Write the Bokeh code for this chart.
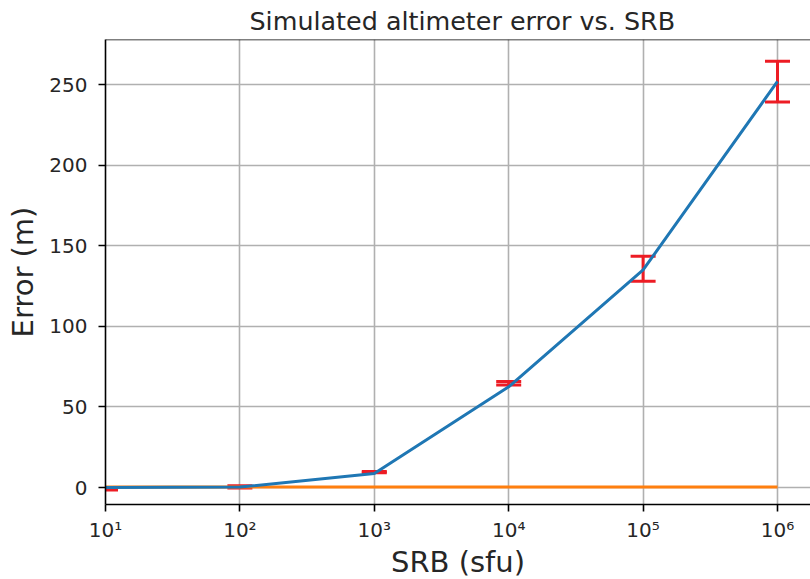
from bokeh.plotting import figure
from bokeh.models import Range1d, FixedTicker, ColumnDataSource, Span
from bokeh.embed import file_html
from bokeh.resources import INLINE

# ---- data ----
srb = [1e1, 1e2, 1e3, 1e4, 1e5, 1e6]
mean_error = [0.0, 0.3, 8.8, 62.5, 135.0, 252.0]
err_low = [-1.5, -0.3, 9.2, 63.6, 128.0, 239.3]
err_high = [-0.8, 1.2, 10.0, 65.8, 143.5, 264.5]
baseline = [0.3, 0.3, 0.3, 0.3, 0.3, 0.3]

x_ticks = [1e1, 1e2, 1e3, 1e4, 1e5, 1e6]
x_tick_labels = ["10¹", "10²", "10³", "10⁴", "10⁵", "10⁶"]
y_ticks = [0, 50, 100, 150, 200, 250]

FONT = "DejaVu Sans"
TXT = "#262626"
Y_MIN, Y_MAX = -10.5, 278

src = ColumnDataSource(dict(x=srb, m=mean_error, lo=err_low, hi=err_high, b=baseline))

p = figure(frame_width=705, frame_height=465, x_axis_type="log",
           x_range=Range1d(10, 10 ** 6.2455), y_range=Range1d(Y_MIN, Y_MAX),
           output_backend="svg", toolbar_location=None,
           title="Simulated altimeter error vs. SRB",
           min_border_left=105, min_border_right=0, min_border_top=37, min_border_bottom=70)

p.title.text_font = FONT
p.title.text_font_size = "25.4px"
p.title.text_font_style = "normal"
p.title.text_color = TXT
p.title.align = "left"
p.title.offset = 144
p.title.standoff = 7

p.background_fill_color = "white"
p.border_fill_color = "white"
p.outline_line_color = None

# top spine
p.add_layout(Span(location=Y_MAX, dimension="width", line_color="black", line_width=1.6))

# error bars (drawn first, under the lines)
p.segment(x0="x", y0="lo", x1="x", y1="hi", source=src, line_color="#ed1c24", line_width=3)
p.scatter(x="x", y="lo", source=src, marker="dash", size=25, line_color="#ed1c24", line_width=3)
p.scatter(x="x", y="hi", source=src, marker="dash", size=25, line_color="#ed1c24", line_width=3)

p.line(x="x", y="b", source=src, line_color="#ff7f0e", line_width=3)
p.line(x="x", y="m", source=src, line_color="#1f77b4", line_width=3)

# axes
xt = FixedTicker(ticks=x_ticks, minor_ticks=[])
yt = FixedTicker(ticks=y_ticks, minor_ticks=[])
p.xaxis.ticker = xt
p.yaxis.ticker = yt
p.xgrid.ticker = xt
p.ygrid.ticker = yt
p.xaxis.major_label_overrides = {t: l for t, l in zip(x_ticks, x_tick_labels)}

for ax in (p.xaxis[0], p.yaxis[0]):
    ax.axis_line_color = "black"
    ax.axis_line_width = 1.6
    ax.major_tick_line_color = "black"
    ax.major_tick_line_width = 1.6
    ax.major_tick_out = 7
    ax.major_tick_in = 0
    ax.minor_tick_out = 0
    ax.minor_tick_in = 0
    ax.major_label_text_font = FONT
    ax.major_label_text_font_size = "20px"
    ax.major_label_text_color = TXT
    ax.axis_label_text_font = FONT
    ax.axis_label_text_font_size = "29px"
    ax.axis_label_text_font_style = "normal"
    ax.axis_label_text_color = TXT

p.xaxis.axis_label = "SRB (sfu)"
p.yaxis.axis_label = "Error (m)"
p.xaxis.major_label_standoff = 6
p.yaxis.major_label_standoff = 11
p.xaxis.axis_label_standoff = 0
p.yaxis.axis_label_standoff = 6

for g in (p.xgrid[0], p.ygrid[0]):
    g.grid_line_color = "#b0b0b0"
    g.grid_line_width = 1.6

open("out.html", "w").write(file_html(p, INLINE))
